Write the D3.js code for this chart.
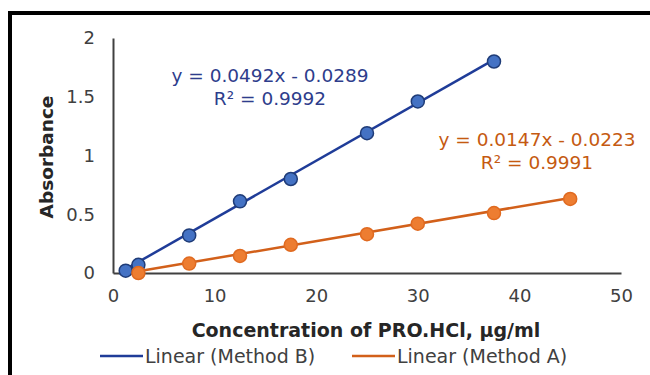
<!DOCTYPE html>
<html>
<head>
<meta charset="utf-8">
<script src="https://cdn.jsdelivr.net/npm/d3@7"></script>
<style>
  body { margin: 0; background: #fff; }
  svg { display: block; font-family: "DejaVu Sans", Verdana, sans-serif; }
</style>
</head>
<body>
<div id="chart"></div>
<script>
// Data
const concB = [1.25, 2.5, 7.5, 12.5, 17.5, 25, 30, 37.5];
const absB = [0.02, 0.07, 0.32, 0.61, 0.80, 1.19, 1.46, 1.80];
const concA = [2.5, 7.5, 12.5, 17.5, 25, 30, 37.5, 45];
const absA = [0.00, 0.08, 0.145, 0.24, 0.33, 0.42, 0.51, 0.63];

// trendline coefficients (from the equations on the chart)
const fitB = { slope: 0.0492, intercept: -0.0289, label1: "y = 0.0492x - 0.0289", label2: "R² = 0.9992" };
const fitA = { slope: 0.0147, intercept: -0.0223, label1: "y = 0.0147x - 0.0223", label2: "R² = 0.9991" };

const xTicks = [0, 10, 20, 30, 40, 50];
const yTicks = [0, 0.5, 1, 1.5, 2];
const legendLabels = ["Linear (Method B)", "Linear (Method A)"];

const width = 650, height = 375;
const margin = { top: 38, right: 29, bottom: 102, left: 113 };

const svg = d3.select("#chart")
    .append("svg")
    .attr("width", width)
    .attr("height", height);

// outer frame (cut off at right and bottom like the picture)
svg.append("rect")
    .attr("x", 10).attr("y", 13)
    .attr("width", 700).attr("height", 400)
    .attr("fill", "none")
    .attr("stroke", "#000")
    .attr("stroke-width", 4);

const x = d3.scaleLinear()
    .domain([0, 50])
    .range([margin.left, width - margin.right]);

const y = d3.scaleLinear()
    .domain([0, 2])
    .range([height - margin.bottom, margin.top]);

// x axis
const xAxis = svg.append("g")
    .attr("transform", `translate(0, ${y(0)})`)
    .call(d3.axisBottom(x).tickValues(xTicks).tickSize(0).tickPadding(16).tickFormat(d3.format("d")));
xAxis.select(".domain").attr("stroke", "#404040").attr("stroke-width", 2);
xAxis.selectAll("text").attr("font-size", 18).attr("fill", "#404040")
    .attr("font-family", "DejaVu Sans, Verdana, sans-serif");

// y axis
const yAxis = svg.append("g")
    .attr("transform", `translate(${x(0)}, 0)`)
    .call(d3.axisLeft(y).tickValues(yTicks).tickSize(0).tickPadding(18).tickFormat(d => d));
yAxis.select(".domain").attr("stroke", "#404040").attr("stroke-width", 2);
yAxis.selectAll("text").attr("font-size", 18).attr("fill", "#404040")
    .attr("font-family", "DejaVu Sans, Verdana, sans-serif");

// axis titles
svg.append("text")
    .attr("x", 366).attr("y", 337)
    .attr("text-anchor", "middle")
    .attr("font-size", 19).attr("font-weight", "bold").attr("fill", "#262626")
    .text("Concentration of PRO.HCl, µg/ml");

svg.append("text")
    .attr("transform", `translate(53, ${157}) rotate(-90)`)
    .attr("text-anchor", "middle")
    .attr("font-size", 18.5).attr("font-weight", "bold").attr("fill", "#262626")
    .text("Absorbance");

const series = [
    { cx: concB, cy: absB, fit: fitB, line: "#1F3C98", fill: "#4472C4", stroke: "#1F3C78", text: "#2E3D8C", lx: 270, ly: 82 },
    { cx: concA, cy: absA, fit: fitA, line: "#D2601A", fill: "#ED7D31", stroke: "#E06A20", text: "#C55A11", lx: 537, ly: 146 }
];

// trendlines, orange under blue
[series[1], series[0]].forEach(s => {
    const x0 = d3.min(s.cx), x1 = d3.max(s.cx);
    svg.append("line")
        .attr("x1", x(x0)).attr("y1", y(s.fit.slope * x0 + s.fit.intercept))
        .attr("x2", x(x1)).attr("y2", y(s.fit.slope * x1 + s.fit.intercept))
        .attr("stroke", s.line)
        .attr("stroke-width", 2.5);
});

[series[0], series[1]].forEach(s => {
    svg.append("g").selectAll("circle")
        .data(s.cx.map((v, i) => [v, s.cy[i]]))
        .join("circle")
        .attr("cx", d => x(d[0]))
        .attr("cy", d => y(d[1]))
        .attr("r", 6.5)
        .attr("fill", s.fill)
        .attr("stroke", s.stroke)
        .attr("stroke-width", 1.5);

    const t = svg.append("text")
        .attr("text-anchor", "middle")
        .attr("font-size", 18.5)
        .attr("fill", s.text);
    t.append("tspan").attr("x", s.lx).attr("y", s.ly).text(s.fit.label1);
    t.append("tspan").attr("x", s.lx).attr("y", s.ly + 23).text(s.fit.label2);
});

// legend
const legend = svg.append("g");
const legendItems = [
    { label: legendLabels[0], color: series[0].line, x: 100 },
    { label: legendLabels[1], color: series[1].line, x: 352 }
];
legendItems.forEach(d => {
    legend.append("line")
        .attr("x1", d.x).attr("x2", d.x + 43)
        .attr("y1", 356).attr("y2", 356)
        .attr("stroke", d.color).attr("stroke-width", 2.5);
    legend.append("text")
        .attr("x", d.x + 45).attr("y", 362.5)
        .attr("font-size", 19).attr("fill", "#404040")
        .text(d.label);
});
</script>
</body>
</html>
